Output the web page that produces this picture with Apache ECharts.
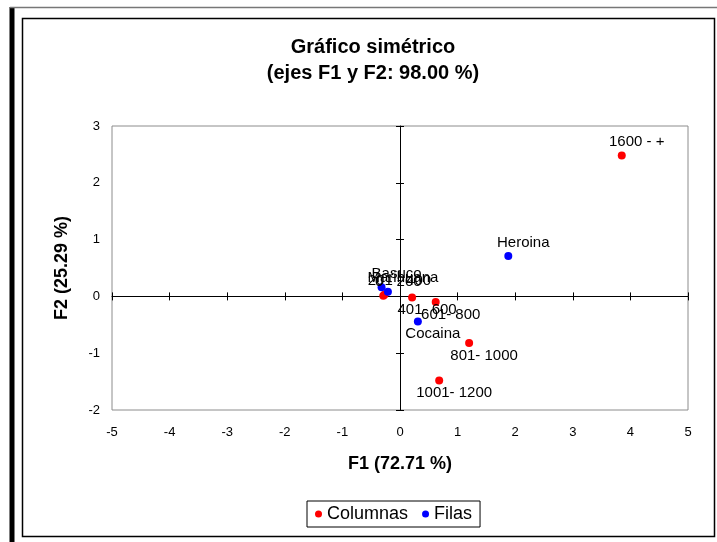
<!DOCTYPE html>
<html>
<head>
<meta charset="utf-8">
<script src="https://cdn.jsdelivr.net/npm/echarts@6/dist/echarts.min.js"></script>
<style>html,body{margin:0;padding:0;background:#fff}#c{width:717px;height:542px}</style>
</head>
<body>
<div id="c"></div>
<script>
// Column points (red)
const colNames = ["0 - 200", "201 - 400", "401- 600", "601- 800", "801- 1000", "1001- 1200", "1600 - +"];
const colF1 = [-0.29, -0.27, 0.21, 0.62, 1.20, 0.68, 3.85];
const colF2 = [0.01, 0.03, -0.02, -0.10, -0.82, -1.48, 2.48];
// Row points (blue)
const rowNames = ["Marihuana", "Basuco", "Cocaina", "Heroina"];
const rowF1 = [-0.21, -0.32, 0.31, 1.88];
const rowF2 = [0.08, 0.16, -0.44, 0.71];
// Axis ticks
const xMin = -5, xMax = 5, xStep = 1;
const yMin = -2, yMax = 3, yStep = 1;

const FONT = '"Liberation Sans", Arial, sans-serif';

const labelStyle = {
  show: true,
  formatter: p => p.name,
  color: '#000',
  fontFamily: FONT,
  fontSize: 15
};

function pts(names, xs, ys) {
  return names.map((n, i) => ({
    name: n,
    value: [xs[i], ys[i]],
    label: Object.assign({}, labelStyle,
      ys[i] > 0 ? { position: 'top', distance: 2 } : { position: 'bottom', distance: 1 })
  }));
}

const chart = echarts.init(document.getElementById('c'), null, { renderer: 'canvas' });

const baseX = { type: 'value', min: xMin, max: xMax, interval: xStep, gridIndex: 0 };
const baseY = { type: 'value', min: yMin, max: yMax, interval: yStep, gridIndex: 0 };

chart.setOption({
  animation: false,
  backgroundColor: '#fff',
  title: {
    text: 'Gráfico simétrico\n(ejes F1 y F2: 98.00 %)',
    left: 368, top: 29, textAlign: 'center',
    textStyle: { fontFamily: FONT, fontSize: 20, fontWeight: 'bold', color: '#000', lineHeight: 26 }
  },
  legend: {
    data: ['Columnas', 'Filas'],
    left: 307, top: 501,
    icon: 'circle', itemWidth: 7, itemHeight: 7, itemGap: 14,
    borderColor: '#000', borderWidth: 1, padding: [4, 8, 4, 8],
    textStyle: { fontFamily: FONT, fontSize: 18, color: '#000' }
  },
  grid: {
    left: 112, right: 29, top: 126, bottom: 132,
    show: true, borderColor: '#8c8c8c', borderWidth: 1, backgroundColor: 'transparent'
  },
  xAxis: [
    Object.assign({}, baseX, {
      position: 'bottom',
      name: 'F1 (72.71 %)', nameLocation: 'middle', nameGap: 45,
      nameTextStyle: { fontFamily: FONT, fontSize: 18, fontWeight: 'bold', color: '#000' },
      axisLine: { show: false, onZero: false },
      axisTick: { show: false },
      axisLabel: { color: '#000', fontFamily: FONT, fontSize: 13, margin: 16 },
      splitLine: { show: false }
    }),
    Object.assign({}, baseX, {
      position: 'bottom',
      axisLine: { show: true, onZero: true, lineStyle: { color: '#000', width: 1 } },
      axisTick: { show: true, inside: false, length: 4, lineStyle: { color: '#000' } },
      axisLabel: { show: false }, splitLine: { show: false }
    }),
    Object.assign({}, baseX, {
      position: 'bottom',
      axisLine: { show: false, onZero: true },
      axisTick: { show: true, inside: true, length: 4, lineStyle: { color: '#000' } },
      axisLabel: { show: false }, splitLine: { show: false }
    })
  ],
  yAxis: [
    Object.assign({}, baseY, {
      position: 'left',
      name: 'F2 (25.29 %)', nameLocation: 'middle', nameGap: 41, nameRotate: 90,
      nameTextStyle: { fontFamily: FONT, fontSize: 18, fontWeight: 'bold', color: '#000' },
      axisLine: { show: false, onZero: false },
      axisTick: { show: false },
      axisLabel: { color: '#000', fontFamily: FONT, fontSize: 13, margin: 12 },
      splitLine: { show: false }
    }),
    Object.assign({}, baseY, {
      position: 'left',
      axisLine: { show: true, onZero: true, lineStyle: { color: '#000', width: 1 } },
      axisTick: { show: true, inside: false, length: 4, lineStyle: { color: '#000' } },
      axisLabel: { show: false }, splitLine: { show: false }
    }),
    Object.assign({}, baseY, {
      position: 'left',
      axisLine: { show: false, onZero: true },
      axisTick: { show: true, inside: true, length: 4, lineStyle: { color: '#000' } },
      axisLabel: { show: false }, splitLine: { show: false }
    })
  ],
  series: [
    {
      name: 'Columnas', type: 'scatter', xAxisIndex: 0, yAxisIndex: 0,
      symbolSize: 8, itemStyle: { color: '#ff0000', opacity: 1 },
      label: labelStyle, labelLayout: { dx: 15 },
      data: pts(colNames, colF1, colF2)
    },
    {
      name: 'Filas', type: 'scatter', xAxisIndex: 0, yAxisIndex: 0,
      symbolSize: 8, itemStyle: { color: '#0000ff', opacity: 1 },
      label: labelStyle, labelLayout: { dx: 15 },
      data: pts(rowNames, rowF1, rowF2)
    }
  ],
  graphic: [
    { type: 'rect', silent: true, z: 100,
      shape: { x: 22.5, y: 18.5, width: 692, height: 518 },
      style: { fill: 'none', stroke: '#000', lineWidth: 1.5 } },
    { type: 'line', silent: true, z: 100,
      shape: { x1: 12, y1: 7, x2: 12, y2: 542 },
      style: { stroke: '#000', lineWidth: 5 } },
    { type: 'line', silent: true, z: 100,
      shape: { x1: 10, y1: 7.5, x2: 717, y2: 7.5 },
      style: { stroke: '#777', lineWidth: 1.5 } }
  ]
});
</script>
</body>
</html>
